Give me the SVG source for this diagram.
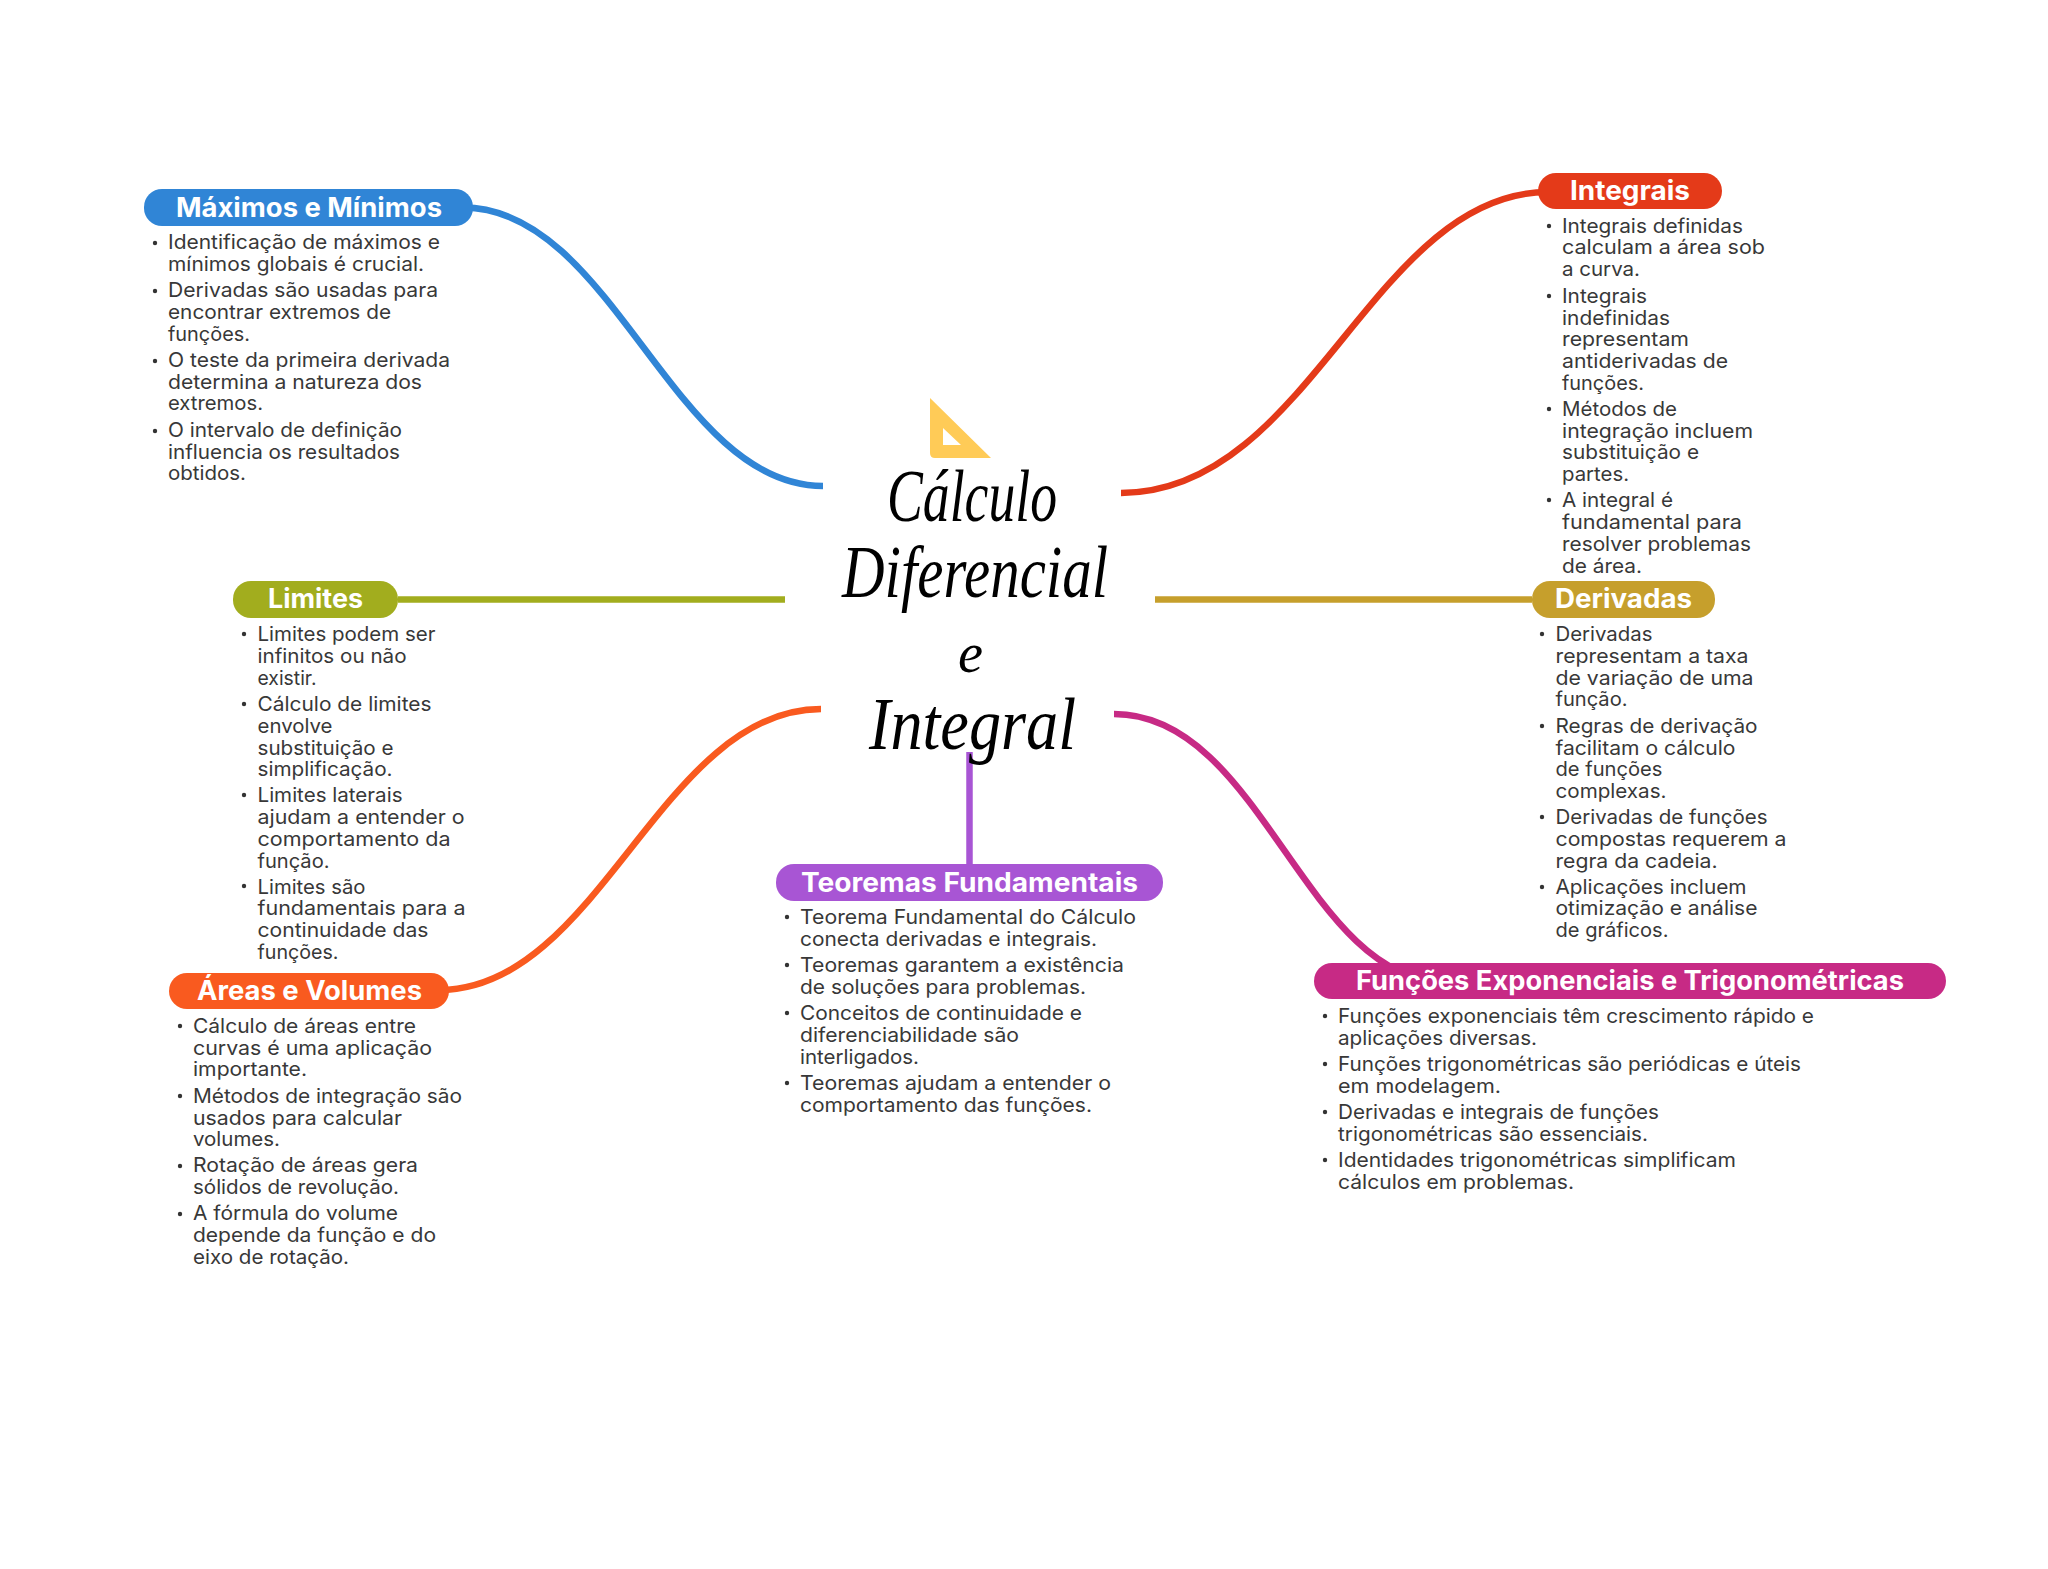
<svg xmlns="http://www.w3.org/2000/svg" width="2048" height="1569" viewBox="0 0 2048 1569">
<style>
text{font-family:Inter,"Open Sans","Liberation Sans",sans-serif}
.b{font-size:20px;fill:#383838}
.h{font-size:26.500px;font-weight:700;fill:#ffffff}
.t{font-family:"Liberation Serif",serif;font-style:italic;font-size:74px;fill:#000000}
.e{font-size:58px}
.d{fill:#333333}
.c{fill:none;stroke-width:6.500}
</style>
<rect width="2048" height="1569" fill="#ffffff"/>
<g id="connectors">
<path class="c" stroke="#3085d6" d="M463 207.500C613 207.500 673 486 823 486"/>
<path class="c" stroke="#e43a19" d="M1121 493C1310 493 1373 192 1548 192"/>
<path class="c" stroke="#a2ad1e" d="M398 599.500H785"/>
<path class="c" stroke="#c69f2c" d="M1155 599.500H1532"/>
<path class="c" stroke="#f95a1f" d="M439 990C599 990 661 709 821 709"/>
<path class="c" stroke="#a855d4" d="M969.500 752V864"/>
<path class="c" stroke="#c72a85" d="M1114 714C1262 714 1305 982 1446 982"/>
</g>
<g id="central">
<path d="M930 398L991 458H935Q930 458 930 453ZM943 428V445H961Z" fill="#ffcb57" fill-rule="evenodd"/>
<text class="t" x="887" y="521" textLength="170" lengthAdjust="spacingAndGlyphs">Cálculo</text>
<text class="t" x="842" y="597" textLength="266" lengthAdjust="spacingAndGlyphs">Diferencial</text>
<text class="t e" x="958" y="672" textLength="25" lengthAdjust="spacingAndGlyphs">e</text>
<text class="t" x="869" y="749" textLength="207" lengthAdjust="spacingAndGlyphs">Integral</text>
</g>
<g id="maximos">
<rect x="144" y="189" width="329" height="37" rx="18" fill="#3085d6"/>
<text class="h" x="176" y="217" textLength="266" lengthAdjust="spacingAndGlyphs">Máximos e Mínimos</text>
<circle class="d" cx="155" cy="243" r="2.200"/><circle class="d" cx="155" cy="291" r="2.200"/><circle class="d" cx="155" cy="361" r="2.200"/><circle class="d" cx="155" cy="431" r="2.200"/>
<text class="b" x="168" y="249" textLength="272" lengthAdjust="spacingAndGlyphs">Identificação de máximos e</text>
<text class="b" x="168" y="271" textLength="256" lengthAdjust="spacingAndGlyphs">mínimos globais é crucial.</text>
<text class="b" x="168" y="297" textLength="270" lengthAdjust="spacingAndGlyphs">Derivadas são usadas para</text>
<text class="b" x="168" y="319" textLength="223" lengthAdjust="spacingAndGlyphs">encontrar extremos de</text>
<text class="b" x="168" y="341" textLength="82" lengthAdjust="spacingAndGlyphs">funções.</text>
<text class="b" x="168" y="367" textLength="282" lengthAdjust="spacingAndGlyphs">O teste da primeira derivada</text>
<text class="b" x="168" y="389" textLength="254" lengthAdjust="spacingAndGlyphs">determina a natureza dos</text>
<text class="b" x="168" y="410" textLength="95" lengthAdjust="spacingAndGlyphs">extremos.</text>
<text class="b" x="168" y="437" textLength="234" lengthAdjust="spacingAndGlyphs">O intervalo de definição</text>
<text class="b" x="168" y="459" textLength="232" lengthAdjust="spacingAndGlyphs">influencia os resultados</text>
<text class="b" x="168" y="480" textLength="78" lengthAdjust="spacingAndGlyphs">obtidos.</text>
</g>
<g id="integrais">
<rect x="1538" y="173" width="184" height="36" rx="18" fill="#e43a19"/>
<text class="h" x="1570" y="200" textLength="120" lengthAdjust="spacingAndGlyphs">Integrais</text>
<circle class="d" cx="1549" cy="226" r="2.200"/><circle class="d" cx="1549" cy="296" r="2.200"/><circle class="d" cx="1549" cy="409" r="2.200"/><circle class="d" cx="1549" cy="500" r="2.200"/>
<text class="b" x="1562" y="233" textLength="181" lengthAdjust="spacingAndGlyphs">Integrais definidas</text>
<text class="b" x="1562" y="254" textLength="203" lengthAdjust="spacingAndGlyphs">calculam a área sob</text>
<text class="b" x="1562" y="276" textLength="78" lengthAdjust="spacingAndGlyphs">a curva.</text>
<text class="b" x="1562" y="303" textLength="85" lengthAdjust="spacingAndGlyphs">Integrais</text>
<text class="b" x="1562" y="325" textLength="108" lengthAdjust="spacingAndGlyphs">indefinidas</text>
<text class="b" x="1562" y="346" textLength="127" lengthAdjust="spacingAndGlyphs">representam</text>
<text class="b" x="1562" y="368" textLength="166" lengthAdjust="spacingAndGlyphs">antiderivadas de</text>
<text class="b" x="1562" y="390" textLength="82" lengthAdjust="spacingAndGlyphs">funções.</text>
<text class="b" x="1562" y="416" textLength="115" lengthAdjust="spacingAndGlyphs">Métodos de</text>
<text class="b" x="1562" y="438" textLength="191" lengthAdjust="spacingAndGlyphs">integração incluem</text>
<text class="b" x="1562" y="459" textLength="137" lengthAdjust="spacingAndGlyphs">substituição e</text>
<text class="b" x="1562" y="481" textLength="67" lengthAdjust="spacingAndGlyphs">partes.</text>
<text class="b" x="1562" y="507" textLength="111" lengthAdjust="spacingAndGlyphs">A integral é</text>
<text class="b" x="1562" y="529" textLength="180" lengthAdjust="spacingAndGlyphs">fundamental para</text>
<text class="b" x="1562" y="551" textLength="189" lengthAdjust="spacingAndGlyphs">resolver problemas</text>
<text class="b" x="1562" y="573" textLength="80" lengthAdjust="spacingAndGlyphs">de área.</text>
</g>
<g id="limites">
<rect x="233" y="581" width="165" height="37" rx="18" fill="#a2ad1e"/>
<text class="h" x="268" y="608" textLength="95" lengthAdjust="spacingAndGlyphs">Limites</text>
<circle class="d" cx="244" cy="634" r="2.200"/><circle class="d" cx="244" cy="704" r="2.200"/><circle class="d" cx="244" cy="795" r="2.200"/><circle class="d" cx="244" cy="886" r="2.200"/>
<text class="b" x="257.500" y="641" textLength="178" lengthAdjust="spacingAndGlyphs">Limites podem ser</text>
<text class="b" x="257.500" y="663" textLength="149" lengthAdjust="spacingAndGlyphs">infinitos ou não</text>
<text class="b" x="257.500" y="685" textLength="59" lengthAdjust="spacingAndGlyphs">existir.</text>
<text class="b" x="257.500" y="711" textLength="174" lengthAdjust="spacingAndGlyphs">Cálculo de limites</text>
<text class="b" x="257.500" y="733" textLength="75" lengthAdjust="spacingAndGlyphs">envolve</text>
<text class="b" x="257.500" y="755" textLength="136" lengthAdjust="spacingAndGlyphs">substituição e</text>
<text class="b" x="257.500" y="776" textLength="135" lengthAdjust="spacingAndGlyphs">simplificação.</text>
<text class="b" x="257.500" y="802" textLength="145" lengthAdjust="spacingAndGlyphs">Limites laterais</text>
<text class="b" x="257.500" y="824" textLength="207" lengthAdjust="spacingAndGlyphs">ajudam a entender o</text>
<text class="b" x="257.500" y="846" textLength="193" lengthAdjust="spacingAndGlyphs">comportamento da</text>
<text class="b" x="257.500" y="868" textLength="72" lengthAdjust="spacingAndGlyphs">função.</text>
<text class="b" x="257.500" y="894" textLength="108" lengthAdjust="spacingAndGlyphs">Limites são</text>
<text class="b" x="257.500" y="915" textLength="208" lengthAdjust="spacingAndGlyphs">fundamentais para a</text>
<text class="b" x="257.500" y="937" textLength="171" lengthAdjust="spacingAndGlyphs">continuidade das</text>
<text class="b" x="257.500" y="959" textLength="81" lengthAdjust="spacingAndGlyphs">funções.</text>
</g>
<g id="derivadas">
<rect x="1532" y="581" width="183" height="37" rx="18" fill="#c69f2c"/>
<text class="h" x="1555" y="608" textLength="137" lengthAdjust="spacingAndGlyphs">Derivadas</text>
<circle class="d" cx="1542" cy="634" r="2.200"/><circle class="d" cx="1542" cy="726" r="2.200"/><circle class="d" cx="1542" cy="817" r="2.200"/><circle class="d" cx="1542" cy="887" r="2.200"/>
<text class="b" x="1555.500" y="641" textLength="97" lengthAdjust="spacingAndGlyphs">Derivadas</text>
<text class="b" x="1555.500" y="663" textLength="193" lengthAdjust="spacingAndGlyphs">representam a taxa</text>
<text class="b" x="1555.500" y="685" textLength="198" lengthAdjust="spacingAndGlyphs">de variação de uma</text>
<text class="b" x="1555.500" y="706" textLength="72" lengthAdjust="spacingAndGlyphs">função.</text>
<text class="b" x="1555.500" y="733" textLength="202" lengthAdjust="spacingAndGlyphs">Regras de derivação</text>
<text class="b" x="1555.500" y="755" textLength="180" lengthAdjust="spacingAndGlyphs">facilitam o cálculo</text>
<text class="b" x="1555.500" y="776" textLength="107" lengthAdjust="spacingAndGlyphs">de funções</text>
<text class="b" x="1555.500" y="798" textLength="111" lengthAdjust="spacingAndGlyphs">complexas.</text>
<text class="b" x="1555.500" y="824" textLength="212" lengthAdjust="spacingAndGlyphs">Derivadas de funções</text>
<text class="b" x="1555.500" y="846" textLength="231" lengthAdjust="spacingAndGlyphs">compostas requerem a</text>
<text class="b" x="1555.500" y="868" textLength="162" lengthAdjust="spacingAndGlyphs">regra da cadeia.</text>
<text class="b" x="1555.500" y="894" textLength="191" lengthAdjust="spacingAndGlyphs">Aplicações incluem</text>
<text class="b" x="1555.500" y="915" textLength="202" lengthAdjust="spacingAndGlyphs">otimização e análise</text>
<text class="b" x="1555.500" y="937" textLength="113" lengthAdjust="spacingAndGlyphs">de gráficos.</text>
</g>
<g id="areas">
<rect x="169" y="973" width="280" height="36" rx="18" fill="#f95a1f"/>
<text class="h" x="197" y="1000" textLength="225" lengthAdjust="spacingAndGlyphs">Áreas e Volumes</text>
<circle class="d" cx="180" cy="1026" r="2.200"/><circle class="d" cx="180" cy="1096" r="2.200"/><circle class="d" cx="180" cy="1166" r="2.200"/><circle class="d" cx="180" cy="1214" r="2.200"/>
<text class="b" x="193" y="1033" textLength="223" lengthAdjust="spacingAndGlyphs">Cálculo de áreas entre</text>
<text class="b" x="193" y="1055" textLength="239" lengthAdjust="spacingAndGlyphs">curvas é uma aplicação</text>
<text class="b" x="193" y="1076" textLength="114" lengthAdjust="spacingAndGlyphs">importante.</text>
<text class="b" x="193" y="1103" textLength="269" lengthAdjust="spacingAndGlyphs">Métodos de integração são</text>
<text class="b" x="193" y="1125" textLength="209" lengthAdjust="spacingAndGlyphs">usados para calcular</text>
<text class="b" x="193" y="1146" textLength="87" lengthAdjust="spacingAndGlyphs">volumes.</text>
<text class="b" x="193" y="1172" textLength="225" lengthAdjust="spacingAndGlyphs">Rotação de áreas gera</text>
<text class="b" x="193" y="1194" textLength="206" lengthAdjust="spacingAndGlyphs">sólidos de revolução.</text>
<text class="b" x="193" y="1220" textLength="205" lengthAdjust="spacingAndGlyphs">A fórmula do volume</text>
<text class="b" x="193" y="1242" textLength="243" lengthAdjust="spacingAndGlyphs">depende da função e do</text>
<text class="b" x="193" y="1264" textLength="156" lengthAdjust="spacingAndGlyphs">eixo de rotação.</text>
</g>
<g id="teoremas">
<rect x="776" y="864" width="387" height="37" rx="18" fill="#a855d4"/>
<text class="h" x="801" y="892" textLength="337" lengthAdjust="spacingAndGlyphs">Teoremas Fundamentais</text>
<circle class="d" cx="787" cy="917" r="2.200"/><circle class="d" cx="787" cy="965" r="2.200"/><circle class="d" cx="787" cy="1013" r="2.200"/><circle class="d" cx="787" cy="1083" r="2.200"/>
<text class="b" x="800" y="924" textLength="336" lengthAdjust="spacingAndGlyphs">Teorema Fundamental do Cálculo</text>
<text class="b" x="800" y="946" textLength="297" lengthAdjust="spacingAndGlyphs">conecta derivadas e integrais.</text>
<text class="b" x="800" y="972" textLength="324" lengthAdjust="spacingAndGlyphs">Teoremas garantem a existência</text>
<text class="b" x="800" y="994" textLength="286" lengthAdjust="spacingAndGlyphs">de soluções para problemas.</text>
<text class="b" x="800" y="1020" textLength="282" lengthAdjust="spacingAndGlyphs">Conceitos de continuidade e</text>
<text class="b" x="800" y="1042" textLength="219" lengthAdjust="spacingAndGlyphs">diferenciabilidade são</text>
<text class="b" x="800" y="1064" textLength="119" lengthAdjust="spacingAndGlyphs">interligados.</text>
<text class="b" x="800" y="1090" textLength="311" lengthAdjust="spacingAndGlyphs">Teoremas ajudam a entender o</text>
<text class="b" x="800" y="1112" textLength="292" lengthAdjust="spacingAndGlyphs">comportamento das funções.</text>
</g>
<g id="funcoes">
<rect x="1314" y="963" width="632" height="36" rx="18" fill="#c72a85"/>
<text class="h" x="1356" y="990" textLength="548" lengthAdjust="spacingAndGlyphs">Funções Exponenciais e Trigonométricas</text>
<circle class="d" cx="1325" cy="1016" r="2.200"/><circle class="d" cx="1325" cy="1064" r="2.200"/><circle class="d" cx="1325" cy="1112" r="2.200"/><circle class="d" cx="1325" cy="1160" r="2.200"/>
<text class="b" x="1338" y="1023" textLength="476" lengthAdjust="spacingAndGlyphs">Funções exponenciais têm crescimento rápido e</text>
<text class="b" x="1338" y="1045" textLength="199" lengthAdjust="spacingAndGlyphs">aplicações diversas.</text>
<text class="b" x="1338" y="1071" textLength="463" lengthAdjust="spacingAndGlyphs">Funções trigonométricas são periódicas e úteis</text>
<text class="b" x="1338" y="1093" textLength="163" lengthAdjust="spacingAndGlyphs">em modelagem.</text>
<text class="b" x="1338" y="1119" textLength="321" lengthAdjust="spacingAndGlyphs">Derivadas e integrais de funções</text>
<text class="b" x="1338" y="1141" textLength="310" lengthAdjust="spacingAndGlyphs">trigonométricas são essenciais.</text>
<text class="b" x="1338" y="1167" textLength="398" lengthAdjust="spacingAndGlyphs">Identidades trigonométricas simplificam</text>
<text class="b" x="1338" y="1189" textLength="236" lengthAdjust="spacingAndGlyphs">cálculos em problemas.</text>
</g>
</svg>
